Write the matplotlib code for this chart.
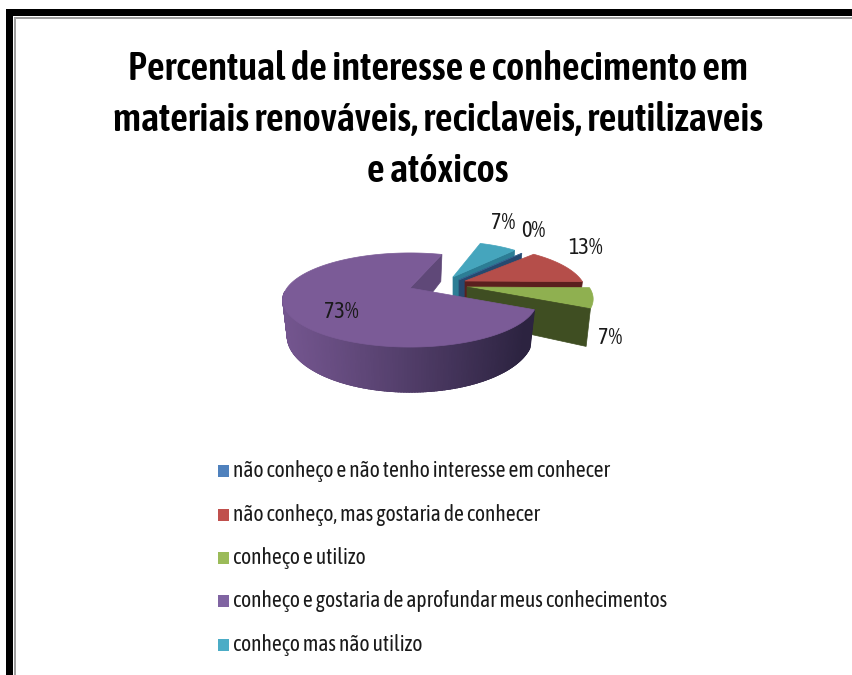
import numpy as np
import matplotlib
matplotlib.use("Agg")
import matplotlib.pyplot as plt
from matplotlib.colors import to_rgb
from matplotlib.patches import Polygon, Rectangle

# chart data
title_lines = ["Percentual de interesse e conhecimento em",
               "materiais renováveis, reciclaveis, reutilizaveis",
               "e atóxicos"]
categories = ["não conheço e não tenho interesse em conhecer",
              "não conheço, mas gostaria de conhecer",
              "conheço e utilizo",
              "conheço e gostaria de aprofundar meus conhecimentos",
              "conheço mas não utilizo"]
values = [0, 13, 7, 73, 7]
top_colors = ["#3d6a9c", "#b54e4a", "#8fb050", "#7b5b97", "#45a5bd"]
wall_colors = ["#26496f", "#5a1f1e", "#3f4e22", "#5f4878", "#2c7d95"]
legend_colors = ["#4f81bd", "#c0504d", "#9bbb59", "#8064a2", "#4bacc6"]

# pie geometry, in pixels of the picture
start_angle = 44
persp = 0.255
flat_b = 44
depth = 33.5
shrink = 0.965
# center x, center y, radius for each slice, drawn as exploded
slice_pos = [(459, 280, 107), (465, 281, 117), (467, 287, 122), (410, 288, 123), (453, 277, 105)]
label_pos = [(533, 231), (586, 248), (610, 338), (341, 312), (503, 223)]

plt.rcParams['font.family'] = ['Asap Condensed', 'Lato', 'DejaVu Sans']


def project(cx, cy, r, cw_deg, down=0.0):
    a = np.radians(cw_deg)
    u, v = np.sin(a), -np.cos(a)
    k = 1 / (1 - persp * v)
    return cx + r * u * k, cy + flat_b * v * k + down * k


def rim(cx, cy, r, a0, a1, down=0.0):
    n = max(2, int(abs(a1 - a0)) + 1)
    angles = np.linspace(a0, a1, n)
    xs, ys = project(cx, cy, r, angles, down)
    return np.column_stack([xs, ys])


fig = plt.figure(figsize=(8.53, 6.75), dpi=100)
ax = fig.add_axes([0, 0, 1, 1])
ax.set_xlim(0, 853)
ax.set_ylim(675, 0)
ax.axis("off")

# frame around the chart
ax.add_patch(Rectangle((6, 9), 847, 7, color="black", lw=0))
ax.add_patch(Rectangle((6, 9), 7, 666, color="black", lw=0))
ax.add_patch(Rectangle((14, 17), 839, 2, color="#a0a0a0", lw=0))
ax.add_patch(Rectangle((14, 17), 2, 658, color="#a0a0a0", lw=0))

for i, line in enumerate(title_lines):
    ax.text(438, 69 + i * 51, line, fontsize=28, fontweight=600, color="black",
            ha="center", va="center")

# slice angles from the values
edges = start_angle + np.cumsum([0] + values) * 3.6
a0s, a1s = edges[:-1], edges[1:]


def cut_wall(i, angle, color, z):
    cx, cy, r = slice_pos[i]
    ex, ey = project(cx, cy, r, angle)
    bx, by = project(cx, cy, r * shrink, angle, depth)
    pts = [(cx, cy), (ex, ey), (bx, by), (cx, cy + depth)]
    ax.add_patch(Polygon(pts, closed=True, fc=color, ec=color, lw=0.5, zorder=z))


def top_face(i, z):
    cx, cy, r = slice_pos[i]
    pts = np.vstack([[cx, cy], rim(cx, cy, r, a0s[i], a1s[i])])
    ax.add_patch(Polygon(pts, closed=True, fc=top_colors[i], ec=top_colors[i], lw=0.5, zorder=z))


# teal and blue at the back
cut_wall(4, a1s[4] % 360, wall_colors[4], 1)
top_face(4, 2)
cut_wall(0, a0s[0], wall_colors[0], 3)
top_face(0, 3)

# red slice
cut_wall(1, a1s[1], wall_colors[1], 4)
top_face(1, 5)

# green slice
top_face(2, 7)
cut_wall(2, a1s[2], wall_colors[2], 7)

# purple slice: inner wall, shaded rim, top
cut_wall(3, a1s[3], wall_colors[3], 8)
cx, cy, r = slice_pos[3]
rim_light = np.array(to_rgb("#73558e"))
rim_dark = np.array(to_rgb("#2c2340"))
# rim stops at the left silhouette, past that it is hidden by the top
for a in np.arange(a0s[3], 264, 1.0):
    quad = np.vstack([rim(cx, cy, r, a, a + 2.5), rim(cx, cy, r * shrink, a + 2.5, a, depth)])
    x_frac = (quad[:, 0].mean() - (cx - r)) / (2 * r)
    col = rim_light + (rim_dark - rim_light) * min(1, max(x_frac, 0) ** 1.1 * 1.05)
    ax.add_patch(Polygon(quad, closed=True, fc=col, ec=col, lw=0.8, zorder=9))
top_face(3, 10)

for i, (lx, ly) in enumerate(label_pos):
    ax.text(lx, ly, f"{values[i]}%", fontsize=16, color="#1a1a1a", ha="center", va="center", zorder=12)

# legend drawn by hand, as in the original layout
legend_y = [471, 515, 558, 601, 645]
for name, col, y in zip(categories, legend_colors, legend_y):
    ax.add_patch(Rectangle((218, y - 6), 11, 12, color=col, lw=0))
    ax.text(233, y, name, fontsize=15.5, color="#1a1a1a", ha="left", va="center")

plt.savefig("out.png", dpi=100)
